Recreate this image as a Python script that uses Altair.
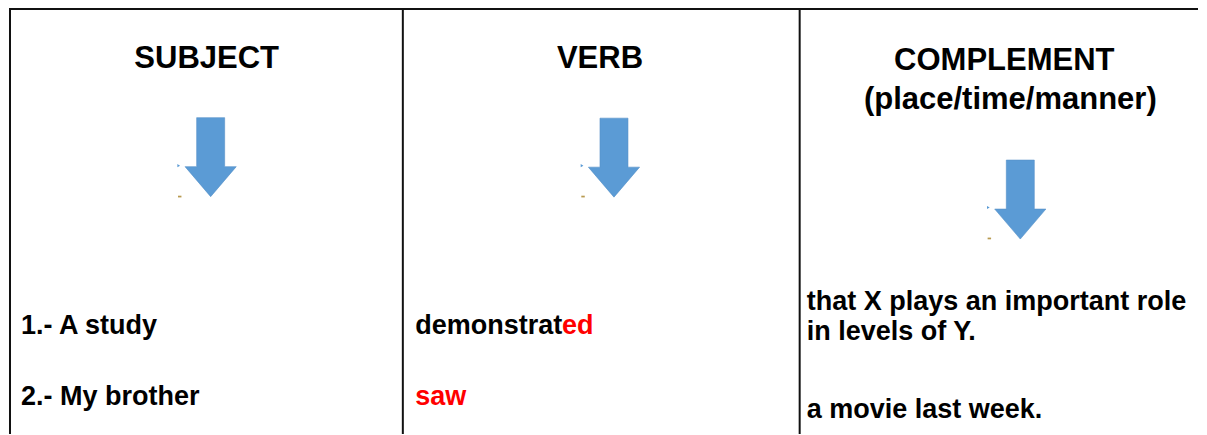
import altair as alt
import pandas as pd

# ---- content -------------------------------------------------------------
headers = ["SUBJECT", "VERB", "COMPLEMENT", "(place/time/manner)"]
subjects = ["1.- A study", "2.- My brother"]
verbs_stem = ["demonstrat", ""]          # black part of each verb
verbs_ending = ["ed", "saw"]             # red part of each verb
complements = ["that X plays an important role", "in levels of Y.", "a movie last week."]

# ---- layout (page pixel coordinates) -------------------------------------
X0, X1, Y0, Y1 = 8, 1199, 8, 435
xs = alt.Scale(domain=[X0, X1], nice=False, zero=False)
ys = alt.Scale(domain=[Y0, Y1], nice=False, zero=False, reverse=True)
FONT = "Liberation Sans"

def X(field="x"):
    return alt.X(f"{field}:Q", scale=xs, axis=None)

def Y(field="y"):
    return alt.Y(f"{field}:Q", scale=ys, axis=None)

# table grid
col_left = [9, 402.5, 800]
grid = pd.DataFrame(
    [{"x": X0, "x2": X1, "y": 9, "y2": 9}]
    + [{"x": c, "x2": c, "y": 9, "y2": Y1} for c in col_left]
)
rules = alt.Chart(grid).mark_rule(color="#111111", strokeWidth=2).encode(
    x=X(), x2="x2:Q", y=Y(), y2="y2:Q"
)

# header texts
hdr = pd.DataFrame({
    "t": headers,
    "x": [206, 600, 1005, 1011],
    "y": [68, 68, 70, 109],
})
hdr_text = alt.Chart(hdr).mark_text(
    font=FONT, fontWeight="bold", fontSize=31, align="center",
    baseline="alphabetic", color="#000000"
).encode(x=X(), y=Y(), text="t:N")

# arrows
ARROW = ("M-0.35,-0.9875 L0.35,-0.9875 L0.35,0.2375 L0.64,0.2375 "
         "L0,0.9875 L-0.64,0.2375 L-0.35,0.2375 Z")
arrows_df = pd.DataFrame({"x": [210, 614, 1021], "y": [157.5, 158, 200]})
arrows = alt.Chart(arrows_df).mark_point(
    shape=ARROW, size=6400, filled=True, fill="#5b9bd5", opacity=1,
    stroke="#5590c8", strokeWidth=0.6
).encode(x=X(), y=Y())

# tiny artefacts beside the arrows
dots_df = pd.DataFrame({"x": [178, 582, 989], "y": [166, 166, 208]})
dots = alt.Chart(dots_df).mark_point(
    shape="triangle-right", size=10, filled=True, fill="#5b9bd5", opacity=1
).encode(x=X(), y=Y())
dash_df = pd.DataFrame({"x": [179, 583, 990], "y": [197, 197, 239]})
dashes = alt.Chart(dash_df).mark_point(
    shape="M-1,-0.5 L1,-0.5 L1,0.5 L-1,0.5 Z", size=12, filled=True,
    fill="#b89a50", opacity=1
).encode(x=X(), y=Y())

# body texts
body_style = dict(font=FONT, fontWeight="bold", fontSize=27, align="left",
                  baseline="alphabetic")
subj_df = pd.DataFrame({"t": subjects, "x": [20, 20], "y": [335, 406]})
subj = alt.Chart(subj_df).mark_text(color="#000000", **body_style).encode(
    x=X(), y=Y(), text="t:N")

verb_stem_df = pd.DataFrame({"t": verbs_stem, "x": [415, 415], "y": [335, 406]})
verb_black = alt.Chart(verb_stem_df).mark_text(color="#000000", **body_style).encode(
    x=X(), y=Y(), text="t:N")
# the red ending starts where the black stem ends (stem width ~147 px)
verb_end_df = pd.DataFrame({"t": verbs_ending, "x": [562, 415], "y": [335, 406]})
verb_red = alt.Chart(verb_end_df).mark_text(color="#ff0000", **body_style).encode(
    x=X(), y=Y(), text="t:N")

comp_df = pd.DataFrame({"t": complements, "x": [807, 807, 807], "y": [311, 341, 419]})
comp = alt.Chart(comp_df).mark_text(color="#000000", **body_style).encode(
    x=X(), y=Y(), text="t:N")

chart = alt.layer(
    rules, hdr_text, arrows, dots, dashes, subj, verb_black, verb_red, comp
).properties(
    width=X1 - X0, height=Y1 - Y0, padding=0,
    autosize=alt.AutoSizeParams(type="fit", contains="padding"),
    background="#ffffff",
).configure_view(stroke=None)

chart.save("out.html", embed_options={"renderer": "svg", "actions": False})
